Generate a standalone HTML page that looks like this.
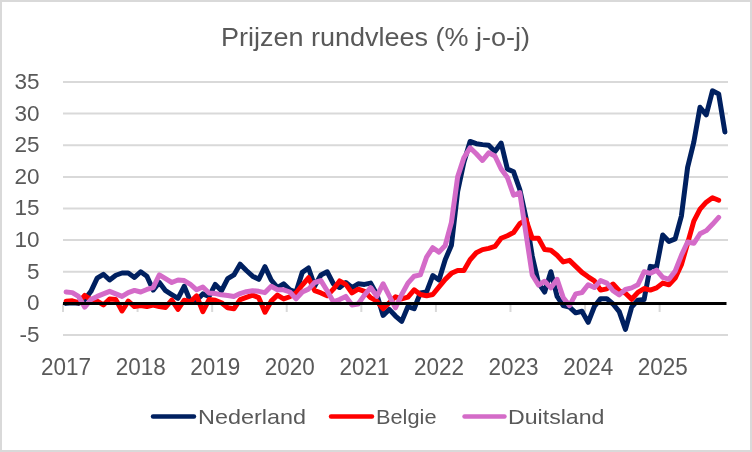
<!DOCTYPE html>
<html><head><meta charset="utf-8"><style>
html,body{margin:0;padding:0;background:#fff;}
svg{display:block;will-change:transform;}
text{font-family:"Liberation Sans",sans-serif;fill:#595959;}
</style></head><body>
<svg width="752" height="452" viewBox="0 0 752 452">
<rect x="0" y="0" width="752" height="452" fill="#fff"/>
<rect x="1" y="1" width="750" height="450" fill="none" stroke="#d9d9d9" stroke-width="2"/>
<text x="221" y="45.5" font-size="25" textLength="309" lengthAdjust="spacingAndGlyphs">Prijzen rundvlees (% j-o-j)</text>
<line x1="63.0" x2="728.0" y1="82.00" y2="82.00" stroke="#d9d9d9" stroke-width="2"/>
<line x1="63.0" x2="728.0" y1="113.62" y2="113.62" stroke="#d9d9d9" stroke-width="2"/>
<line x1="63.0" x2="728.0" y1="145.25" y2="145.25" stroke="#d9d9d9" stroke-width="2"/>
<line x1="63.0" x2="728.0" y1="176.88" y2="176.88" stroke="#d9d9d9" stroke-width="2"/>
<line x1="63.0" x2="728.0" y1="208.50" y2="208.50" stroke="#d9d9d9" stroke-width="2"/>
<line x1="63.0" x2="728.0" y1="240.12" y2="240.12" stroke="#d9d9d9" stroke-width="2"/>
<line x1="63.0" x2="728.0" y1="271.75" y2="271.75" stroke="#d9d9d9" stroke-width="2"/>
<line x1="63.0" x2="728.0" y1="335.00" y2="335.00" stroke="#d9d9d9" stroke-width="2"/>
<line x1="63.00" x2="63.00" y1="303.38" y2="312" stroke="#d9d9d9" stroke-width="2"/>
<line x1="137.58" x2="137.58" y1="303.38" y2="312" stroke="#d9d9d9" stroke-width="2"/>
<line x1="212.16" x2="212.16" y1="303.38" y2="312" stroke="#d9d9d9" stroke-width="2"/>
<line x1="286.74" x2="286.74" y1="303.38" y2="312" stroke="#d9d9d9" stroke-width="2"/>
<line x1="361.32" x2="361.32" y1="303.38" y2="312" stroke="#d9d9d9" stroke-width="2"/>
<line x1="435.90" x2="435.90" y1="303.38" y2="312" stroke="#d9d9d9" stroke-width="2"/>
<line x1="510.48" x2="510.48" y1="303.38" y2="312" stroke="#d9d9d9" stroke-width="2"/>
<line x1="585.06" x2="585.06" y1="303.38" y2="312" stroke="#d9d9d9" stroke-width="2"/>
<line x1="659.64" x2="659.64" y1="303.38" y2="312" stroke="#d9d9d9" stroke-width="2"/>

<g font-size="22.5">
<text x="39.5" y="88.90" text-anchor="end">35</text>
<text x="39.5" y="120.53" text-anchor="end">30</text>
<text x="39.5" y="152.15" text-anchor="end">25</text>
<text x="39.5" y="183.78" text-anchor="end">20</text>
<text x="39.5" y="215.40" text-anchor="end">15</text>
<text x="39.5" y="247.03" text-anchor="end">10</text>
<text x="39.5" y="278.65" text-anchor="end">5</text>
<text x="39.5" y="310.27" text-anchor="end">0</text>
<text x="39.5" y="341.90" text-anchor="end">-5</text>
<text x="66.11" y="375" text-anchor="middle" font-size="23" textLength="50" lengthAdjust="spacingAndGlyphs">2017</text>
<text x="140.69" y="375" text-anchor="middle" font-size="23" textLength="50" lengthAdjust="spacingAndGlyphs">2018</text>
<text x="215.27" y="375" text-anchor="middle" font-size="23" textLength="50" lengthAdjust="spacingAndGlyphs">2019</text>
<text x="289.85" y="375" text-anchor="middle" font-size="23" textLength="50" lengthAdjust="spacingAndGlyphs">2020</text>
<text x="364.43" y="375" text-anchor="middle" font-size="23" textLength="50" lengthAdjust="spacingAndGlyphs">2021</text>
<text x="439.00" y="375" text-anchor="middle" font-size="23" textLength="50" lengthAdjust="spacingAndGlyphs">2022</text>
<text x="513.58" y="375" text-anchor="middle" font-size="23" textLength="50" lengthAdjust="spacingAndGlyphs">2023</text>
<text x="588.16" y="375" text-anchor="middle" font-size="23" textLength="50" lengthAdjust="spacingAndGlyphs">2024</text>
<text x="662.74" y="375" text-anchor="middle" font-size="23" textLength="50" lengthAdjust="spacingAndGlyphs">2025</text>

</g>
<g fill="none" stroke-width="5" stroke-linejoin="round" stroke-linecap="round">
<path d="M66.11,303.38 L72.32,302.74 L78.54,303.38 L84.75,299.58 L90.97,291.36 L97.18,278.08 L103.40,274.28 L109.61,279.97 L115.83,275.23 L122.04,273.01 L128.26,273.01 L134.47,277.44 L140.69,271.75 L146.90,276.18 L153.12,290.09 L159.33,282.50 L165.55,290.73 L171.76,294.52 L177.98,298.32 L184.19,286.30 L190.41,301.16 L196.62,300.21 L202.84,293.89 L209.05,296.42 L215.27,284.40 L221.48,290.73 L227.70,278.71 L233.91,274.91 L240.13,264.16 L246.34,270.49 L252.56,276.18 L258.77,279.34 L264.99,266.69 L271.20,279.97 L277.42,287.56 L283.63,283.77 L289.85,289.78 L296.06,291.99 L302.28,272.38 L308.49,267.95 L314.71,285.98 L320.92,274.91 L327.14,271.75 L333.35,283.77 L339.57,287.56 L345.78,282.50 L352.00,287.56 L358.21,283.77 L364.43,284.40 L370.64,283.13 L376.86,294.52 L383.07,315.39 L389.29,309.38 L395.50,316.02 L401.71,321.40 L407.93,306.54 L414.14,308.75 L420.36,292.94 L426.57,291.99 L432.79,275.55 L439.00,279.97 L445.22,259.73 L451.43,245.19 L457.65,191.42 L463.86,162.33 L470.08,141.45 L476.29,143.67 L482.51,144.62 L488.72,145.25 L494.94,151.57 L501.15,143.04 L507.37,168.97 L513.58,171.81 L519.80,189.53 L526.01,217.99 L532.23,255.94 L538.44,282.82 L544.66,291.99 L550.87,271.75 L557.09,296.42 L563.30,305.59 L569.52,307.17 L575.73,312.86 L581.95,311.28 L588.16,322.35 L594.38,306.54 L600.59,298.63 L606.81,298.63 L613.02,304.01 L619.24,311.60 L625.45,329.31 L631.67,307.17 L637.88,300.21 L644.10,299.58 L650.31,266.37 L656.53,267.32 L662.74,235.06 L668.96,241.39 L675.17,238.86 L681.39,216.09 L687.60,167.39 L693.82,142.09 L700.03,107.30 L706.25,114.89 L712.46,90.85 L718.68,94.02 L724.89,131.97" stroke="#002060"/>
<path d="M66.11,301.16 L72.32,300.85 L78.54,302.74 L84.75,295.47 L90.97,299.58 L97.18,301.16 L103.40,304.96 L109.61,298.95 L115.83,299.58 L122.04,310.97 L128.26,301.16 L134.47,306.54 L140.69,305.59 L146.90,306.54 L153.12,304.96 L159.33,306.54 L165.55,307.49 L171.76,300.21 L177.98,309.38 L184.19,300.21 L190.41,301.79 L196.62,295.78 L202.84,311.60 L209.05,299.58 L215.27,300.21 L221.48,302.74 L227.70,307.80 L233.91,308.75 L240.13,299.58 L246.34,297.37 L252.56,295.15 L258.77,297.68 L264.99,312.23 L271.20,301.16 L277.42,295.15 L283.63,298.95 L289.85,296.73 L296.06,292.94 L302.28,285.03 L308.49,277.76 L314.71,290.73 L320.92,292.94 L327.14,295.78 L333.35,289.14 L339.57,280.92 L345.78,284.40 L352.00,292.94 L358.21,289.14 L364.43,291.36 L370.64,297.68 L376.86,301.16 L383.07,308.75 L389.29,302.74 L395.50,296.73 L401.71,298.95 L407.93,297.05 L414.14,289.78 L420.36,294.52 L426.57,295.78 L432.79,294.52 L439.00,286.93 L445.22,279.34 L451.43,273.33 L457.65,270.49 L463.86,270.49 L470.08,259.73 L476.29,252.78 L482.51,249.61 L488.72,248.35 L494.94,246.45 L501.15,238.23 L507.37,235.70 L513.58,232.53 L519.80,223.68 L526.01,219.89 L532.23,238.23 L538.44,238.23 L544.66,249.61 L550.87,250.25 L557.09,255.31 L563.30,261.95 L569.52,260.37 L575.73,266.37 L581.95,272.38 L588.16,276.81 L594.38,280.92 L600.59,290.09 L606.81,288.83 L613.02,284.08 L619.24,290.73 L625.45,293.25 L631.67,299.26 L637.88,292.31 L644.10,288.51 L650.31,290.09 L656.53,287.88 L662.74,283.13 L668.96,284.72 L675.17,278.08 L681.39,264.79 L687.60,243.29 L693.82,221.15 L700.03,209.13 L706.25,202.18 L712.46,197.75 L718.68,200.28" stroke="#ff0000"/>
<path d="M66.11,291.99 L72.32,292.62 L78.54,296.42 L84.75,307.17 L90.97,299.58 L97.18,296.42 L103.40,293.89 L109.61,291.36 L115.83,293.89 L122.04,296.42 L128.26,292.62 L134.47,290.41 L140.69,291.99 L146.90,289.46 L153.12,287.56 L159.33,274.91 L165.55,278.71 L171.76,282.50 L177.98,279.97 L184.19,280.61 L190.41,284.40 L196.62,289.78 L202.84,286.93 L209.05,292.94 L215.27,293.57 L221.48,294.84 L227.70,295.47 L233.91,296.42 L240.13,293.57 L246.34,291.67 L252.56,290.73 L258.77,291.36 L264.99,292.62 L271.20,286.30 L277.42,289.78 L283.63,289.78 L289.85,291.99 L296.06,298.95 L302.28,291.99 L308.49,289.14 L314.71,282.50 L320.92,280.61 L327.14,290.73 L333.35,301.79 L339.57,299.58 L345.78,296.42 L352.00,304.96 L358.21,304.01 L364.43,295.15 L370.64,287.56 L376.86,296.42 L383.07,283.77 L389.29,295.78 L395.50,307.80 L401.71,294.52 L407.93,283.13 L414.14,276.18 L420.36,274.91 L426.57,257.20 L432.79,247.72 L439.00,252.14 L445.22,245.50 L451.43,222.41 L457.65,176.88 L463.86,157.90 L470.08,147.78 L476.29,153.79 L482.51,160.43 L488.72,152.84 L494.94,156.00 L501.15,168.97 L507.37,177.51 L513.58,195.22 L519.80,192.69 L526.01,233.80 L532.23,274.91 L538.44,285.03 L544.66,281.24 L550.87,287.88 L557.09,279.34 L563.30,297.68 L569.52,305.59 L575.73,293.89 L581.95,292.62 L588.16,284.72 L594.38,287.56 L600.59,280.61 L606.81,283.13 L613.02,290.73 L619.24,294.84 L625.45,289.46 L631.67,287.88 L637.88,284.72 L644.10,271.75 L650.31,273.33 L656.53,270.17 L662.74,277.44 L668.96,279.34 L675.17,271.12 L681.39,255.31 L687.60,242.02 L693.82,243.29 L700.03,233.80 L706.25,230.64 L712.46,224.31 L718.68,217.35" stroke="#d46bc8"/>
</g>
<path d="M63.0,303.38 L726.5,303.38" stroke="#000" stroke-width="3"/>
<g stroke-width="4.4" stroke-linecap="round">
<line x1="153" x2="194" y1="416.5" y2="416.5" stroke="#002060"/>
<line x1="331" x2="372" y1="416.5" y2="416.5" stroke="#ff0000"/>
<line x1="464.5" x2="504.5" y1="416.5" y2="416.5" stroke="#d46bc8"/>
</g>
<g font-size="21">
<text x="198" y="424" textLength="108" lengthAdjust="spacingAndGlyphs">Nederland</text>
<text x="376" y="424" textLength="60.5" lengthAdjust="spacingAndGlyphs">Belgie</text>
<text x="508" y="424" textLength="96.5" lengthAdjust="spacingAndGlyphs">Duitsland</text>
</g>
</svg>
</body></html>
